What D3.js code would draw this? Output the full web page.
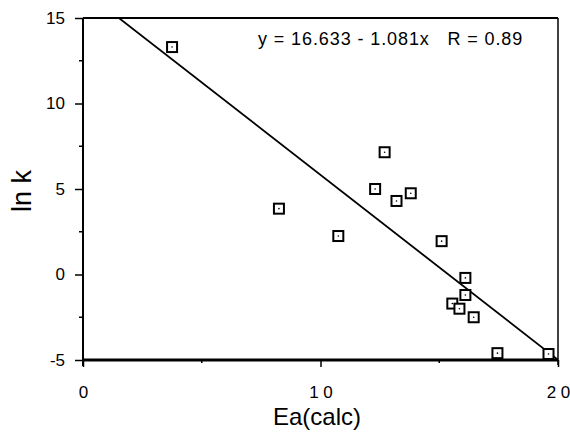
<!DOCTYPE html>
<html>
<head>
<meta charset="utf-8">
<script src="https://cdn.jsdelivr.net/npm/d3@7"></script>
<style>
  body { margin: 0; background: #fff; }
  svg { display: block; font-family: "Liberation Sans", Arial, sans-serif; }
</style>
</head>
<body>
<div id="chart"></div>
<script>
// measured points (Ea calc vs ln k)
const eaCalc = [3.75, 8.25, 10.75, 12.7, 12.3, 13.2, 13.8, 15.1, 16.1, 16.1, 15.55, 15.85, 16.45, 17.45, 19.6];
const lnK    = [13.3, 3.85, 2.25, 7.15, 5.0, 4.3, 4.75, 1.95, -0.2, -1.2, -1.7, -2.0, -2.5, -4.6, -4.65];

const fitIntercept = 16.633;
const fitSlope = -1.081;
const fitLabel = 'y = 16.633 - 1.081x   R = 0.89';

const xTicks = [0, 10, 20];
const xMinor = [5, 15];
const yTicks = [-5, 0, 5, 10, 15];
const yMinor = [-2.5, 2.5, 7.5, 12.5];

const W = 570, H = 435;
const margin = { left: 83, right: 12, top: 18, bottom: 75 };

const svg = d3.select('#chart').append('svg')
  .attr('width', W)
  .attr('height', H);

const x = d3.scaleLinear().domain([0, 20]).range([margin.left, W - margin.right]);
const y = d3.scaleLinear().domain([-5, 15]).range([H - margin.bottom, margin.top]);

svg.append('defs').append('clipPath').attr('id', 'plot')
  .append('rect')
  .attr('x', x(0)).attr('y', y(15))
  .attr('width', x(20) - x(0)).attr('height', y(-5) - y(15));

// frame
svg.append('line').attr('x1', x(0)).attr('x2', x(20)).attr('y1', y(15)).attr('y2', y(15))
  .attr('stroke', '#000').attr('stroke-width', 2);
svg.append('line').attr('x1', x(20)).attr('x2', x(20)).attr('y1', y(15)).attr('y2', y(-5) + 5)
  .attr('stroke', '#000').attr('stroke-width', 1.5);
svg.append('line').attr('x1', x(0)).attr('x2', x(0)).attr('y1', y(15)).attr('y2', y(-5) + 6)
  .attr('stroke', '#000').attr('stroke-width', 2);
svg.append('line').attr('x1', x(0) - 1).attr('x2', x(20)).attr('y1', y(-5)).attr('y2', y(-5))
  .attr('stroke', '#000').attr('stroke-width', 3);

// y axis
const yAxis = svg.append('g').attr('transform', `translate(${x(0)},0)`)
  .call(d3.axisLeft(y).tickValues(yTicks).tickSize(8).tickPadding(10)
    .tickFormat(d => String(d)));
yAxis.select('.domain').remove();
yAxis.selectAll('line').attr('stroke-width', 1.5);
yAxis.selectAll('text').style('font-size', '17px').attr('fill', '#000');

svg.append('g').selectAll('line').data(yMinor).join('line')
  .attr('x1', x(0) - 4).attr('x2', x(0))
  .attr('y1', d => y(d)).attr('y2', d => y(d))
  .attr('stroke', '#000').attr('stroke-width', 1.5);

// x axis
const xAxis = svg.append('g').attr('transform', `translate(0,${y(-5)})`)
  .call(d3.axisBottom(x).tickValues(xTicks).tickSize(7).tickPadding(19)
    .tickFormat(d => String(d).split('').join(' ')));
xAxis.select('.domain').remove();
xAxis.selectAll('line').attr('stroke-width', 1.5);
xAxis.selectAll('text').style('font-size', '17px').attr('fill', '#000');

svg.append('g').selectAll('line').data(xMinor).join('line')
  .attr('x1', d => x(d)).attr('x2', d => x(d))
  .attr('y1', y(-5)).attr('y2', y(-5) + 3)
  .attr('stroke', '#000').attr('stroke-width', 1.5);

// fit line
svg.append('line')
  .attr('clip-path', 'url(#plot)')
  .attr('x1', x(0)).attr('y1', y(fitIntercept))
  .attr('x2', x(20)).attr('y2', y(fitIntercept + fitSlope * 20))
  .attr('stroke', '#000').attr('stroke-width', 1.8);

// points
const pts = svg.append('g').selectAll('g').data(eaCalc.map((d, i) => [d, lnK[i]])).join('g')
  .attr('transform', d => `translate(${x(d[0])},${y(d[1])})`);
pts.append('rect')
  .attr('x', -5).attr('y', -5).attr('width', 10).attr('height', 10)
  .attr('fill', '#fff').attr('stroke', '#000').attr('stroke-width', 2);
pts.append('circle').attr('r', 0.8).attr('fill', '#000');

// equation
svg.append('text')
  .attr('x', 258).attr('y', 45)
  .style('font-size', '18px')
  .style('letter-spacing', '0.9px')
  .style('white-space', 'pre')
  .attr('xml:space', 'preserve')
  .text(fitLabel);

// axis titles
svg.append('text')
  .attr('x', 317).attr('y', 425)
  .attr('text-anchor', 'middle')
  .style('font-size', '24px')
  .text('Ea(calc)');

svg.append('text')
  .attr('transform', 'translate(31,191) rotate(-90)')
  .attr('text-anchor', 'middle')
  .style('font-size', '27px')
  .text('ln k');
</script>
</body>
</html>
